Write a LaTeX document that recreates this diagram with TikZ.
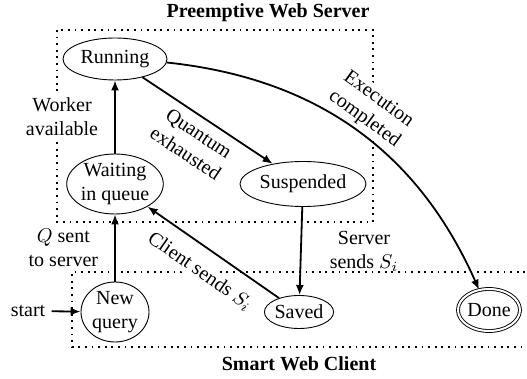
\documentclass[tikz,border=0pt]{standalone}
\usepackage{fontspec}
\setmainfont{Liberation Serif}
\usetikzlibrary{arrows.meta,shapes.geometric}
\tikzset{
  stnode/.style={ellipse,draw,line width=0.45pt,align=center,inner sep=0pt},
  trans/.style={-{Latex[length=5pt,width=4pt]},line width=0.9pt},
  lbl/.style={align=center,inner sep=1pt},
  region/.style={line width=0.9pt,dash pattern=on 0.9pt off 2.4pt},
  heading/.style={font=\bfseries}
}
\begin{document}
\begin{tikzpicture}[x=0.5pt,y=-0.5pt]
\useasboundingbox (0,0) rectangle (527,379);
% the two regions
\draw[region] (57,30) rectangle (373,222);
\draw[region] (545,272) -- (72,272) -- (72,347) -- (545,347);
\node[heading] (srvtitle) at (268,13) {Preemptive Web Server};
\node[heading] (clititle) at (299,364) {Smart Web Client};
% states
\node[stnode,minimum width=52pt,minimum height=21pt] (run) at (115,59) {Running};
\node[stnode,minimum width=46pt,minimum height=30pt] (wait) at (115,184) {Waiting\\in queue};
\node[stnode,minimum width=63pt,minimum height=22.5pt] (susp) at (303,184) {Suspended};
\node[stnode,minimum width=34pt,minimum height=30pt] (new) at (115,312) {New\\query};
\node[stnode,minimum width=34pt,minimum height=16.5pt] (saved) at (299,312) {Saved};
\node[stnode,double,double distance=1pt,minimum width=31pt,minimum height=21pt] (done) at (489,310) {Done};
\node[lbl] (start) at (28,311) {start};
% transitions
\draw[trans,shorten <=2pt] (start) -- (new);
\draw[trans] (new) -- node[lbl,left=7pt]{$Q$ sent\\to server} (wait);
\draw[trans] (wait) -- node[lbl,fill=white,left=7pt]{Worker\\available} (run);
\draw[trans] (run) -- node[lbl,sloped,below=3pt]{Quantum\\exhausted} (susp);
\draw[trans] (run) to[bend left=30] node[lbl,fill=white,sloped,above=1pt]{Execution\\completed} (done);
\draw[trans] (susp) -- node[lbl,right=13pt]{Server\\sends $S_i$} (saved);
\draw[trans] (saved) -- node[lbl,fill=white,sloped,below=6pt]{Client sends $S_i$} (wait);
\end{tikzpicture}
\end{document}
